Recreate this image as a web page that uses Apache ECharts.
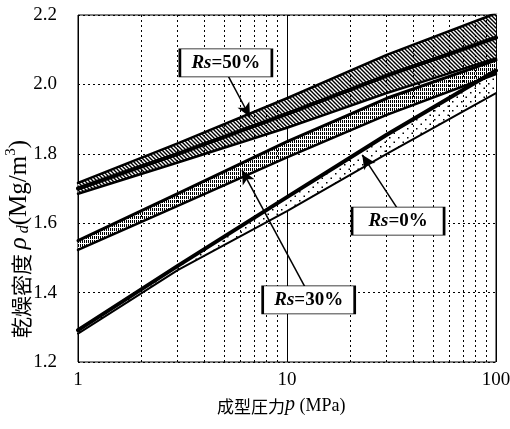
<!DOCTYPE html>
<html>
<head>
<meta charset="utf-8">
<script src="https://cdn.jsdelivr.net/npm/echarts@6/dist/echarts.min.js"></script>
<style>
  html, body { margin: 0; padding: 0; background: #fff; }
  #chart { width: 510px; height: 429px; }
</style>
</head>
<body>
<div id="chart"></div>
<script>
// Forming pressure (MPa) at which each envelope curve is read
const pressure = [1, 3, 10, 30, 100];

// Dry density envelopes (Mg/m3), Rs = 50 %
const rs50Top = [1.716, 1.830, 1.960, 2.085, 2.205];
const rs50Mid = [1.700, 1.800, 1.915, 2.025, 2.135];
const rs50Bottom = [1.685, 1.775, 1.875, 1.975, 2.075];
// Rs = 30 %
const rs30Top = [1.550, 1.685, 1.835, 1.960, 2.070];
const rs30Bottom = [1.523, 1.650, 1.790, 1.912, 2.030];
// Rs = 0 %
const rs0Top = [1.292, 1.477, 1.675, 1.855, 2.040];
const rs0Bottom = [1.282, 1.465, 1.635, 1.800, 1.975];

// Axis ticks
const yTicks = [1.2, 1.4, 1.6, 1.8, 2.0, 2.2];
const xMinorGrid = [2, 3, 4, 5, 6, 7, 8, 9, 20, 30, 40, 50, 60, 70, 80, 90];

// Callouts: box centre, arrow tail and arrow tip in (pressure, density)
const callouts = [
  { at: [5.1, 2.062], text: '=50%', tail: [5.22, 2.025], tip: [6.65, 1.906] },
  { at: [12.7, 1.379], text: '=30%', tail: [12.2, 1.416], tip: [6.09, 1.753] },
  { at: [34.0, 1.606], text: '=0%', tail: [33.6, 1.644], tip: [22.9, 1.797] }
];

const SERIF = '"Liberation Serif", "DejaVu Serif", serif';
const CJK = '"Noto Sans CJK JP", sans-serif';

function makePattern(w, h, draw) {
  const c = document.createElement('canvas');
  c.width = w; c.height = h;
  const ctx = c.getContext('2d');
  ctx.fillStyle = '#fff';
  ctx.fillRect(0, 0, w, h);
  ctx.fillStyle = '#000';
  ctx.strokeStyle = '#000';
  draw(ctx);
  return { image: c, repeat: 'repeat' };
}

// "\\\\" hatch
const diagHatch = makePattern(4, 4, function (ctx) {
  ctx.lineWidth = 1.4;
  ctx.beginPath();
  ctx.moveTo(-1, -1); ctx.lineTo(5, 5);
  ctx.moveTo(-1, 3); ctx.lineTo(1, 5);
  ctx.moveTo(3, -1); ctx.lineTo(5, 1);
  ctx.stroke();
});
// dense vertical stripes
const vertHatch = makePattern(2, 4, function (ctx) {
  ctx.fillRect(0, 0, 1, 3);
});
// sparse dots
const dotFill = makePattern(9, 9, function (ctx) {
  ctx.fillRect(2, 2, 1.5, 1.5);
  ctx.fillRect(6.5, 6.5, 1.5, 1.5);
});

function pairs(ys) {
  return pressure.map(function (p, i) { return [p, ys[i]]; });
}

// Filled band between two envelope curves
function bandSeries(lower, upper, fill) {
  return {
    type: 'custom', silent: true, z: 2,
    data: [[pressure[0], lower[0]]],
    renderItem: function (params, api) {
      const pts = [];
      pressure.forEach(function (p, i) { pts.push(api.coord([p, upper[i]])); });
      for (let i = pressure.length - 1; i >= 0; i--) pts.push(api.coord([pressure[i], lower[i]]));
      return {
        type: 'polygon',
        shape: { points: pts },
        style: { fill: fill, stroke: null }
      };
    }
  };
}

function curve(ys, width) {
  return {
    type: 'line', data: pairs(ys), showSymbol: false, silent: true,
    lineStyle: { color: '#000', width: width, cap: 'round', join: 'round' }, z: 3
  };
}

const richLabel = {
  i: { fontFamily: SERIF, fontSize: 19, fontWeight: 'bold', fontStyle: 'italic', color: '#000' },
  b: { fontFamily: SERIF, fontSize: 19, fontWeight: 'bold', color: '#000' }
};

const series = [
  // minor vertical grid lines
  {
    type: 'line', data: [], silent: true, z: 1,
    markLine: {
      silent: true, symbol: 'none', label: { show: false },
      lineStyle: { color: '#000', width: 1, type: [2, 3] },
      data: xMinorGrid.map(function (v) { return { xAxis: v }; })
    }
  },
  bandSeries(rs50Bottom, rs50Top, diagHatch),
  bandSeries(rs30Bottom, rs30Top, vertHatch),
  bandSeries(rs0Bottom, rs0Top, dotFill),
  curve(rs50Top, 2.5), curve(rs50Mid, 4), curve(rs50Bottom, 2.5),
  curve(rs30Top, 3), curve(rs30Bottom, 2.5),
  curve(rs0Top, 4), curve(rs0Bottom, 2)
];

// callout arrows and boxes
series.push({
  type: 'line', data: [], silent: true, z: 5,
  markLine: {
    silent: true, symbol: ['none', 'arrow'], symbolSize: [10, 14],
    label: { show: false },
    lineStyle: { color: '#000', width: 1.5, type: 'solid' },
    data: callouts.map(function (c) { return [{ coord: c.tail }, { coord: c.tip }]; })
  },
  markPoint: {
    silent: true, symbol: 'rect', symbolSize: [92, 28],
    itemStyle: { color: '#fff', borderColor: '#000', borderWidth: 1.5 },
    label: { show: true, position: 'inside', rich: richLabel },
    data: callouts.map(function (c) {
      return { coord: c.at, label: { formatter: '{i|Rs}{b|' + c.text + '}' } };
    })
  }
});

const chart = echarts.init(document.getElementById('chart'), null, { renderer: 'canvas' });
chart.setOption({
  animation: false,
  backgroundColor: '#fff',
  grid: {
    left: 78, right: 14, top: 15, bottom: 67,
    show: true, borderColor: '#000', borderWidth: 1, backgroundColor: 'transparent',
    outerBoundsMode: 'none'
  },
  xAxis: {
    type: 'log', logBase: 10, min: 1, max: 100,
    axisLine: { show: false }, axisTick: { show: false },
    splitLine: { show: true, lineStyle: { color: '#000', width: 1 } },
    axisLabel: {
      margin: 9, color: '#000', fontFamily: SERIF, fontSize: 19,
      formatter: function (v) { return String(Math.round(v)); }
    }
  },
  yAxis: {
    type: 'value', min: yTicks[0], max: yTicks[yTicks.length - 1], interval: 0.2,
    axisLine: { show: false }, axisTick: { show: false },
    splitLine: { show: true, lineStyle: { color: '#000', width: 1, type: [2, 3] } },
    axisLabel: {
      margin: 21, color: '#000', fontFamily: SERIF, fontSize: 19,
      formatter: function (v) { return v.toFixed(1); }
    }
  },
  graphic: [
    {
      type: 'text', left: 217, top: 395,
      style: {
        text: '{cj|成型圧力}{pi|p}{mp| (MPa)}',
        rich: {
          cj: { fontFamily: CJK, fontSize: 17, lineHeight: 22, color: '#000', verticalAlign: 'bottom' },
          pi: { fontFamily: SERIF, fontSize: 20, lineHeight: 22, fontStyle: 'italic', color: '#000', verticalAlign: 'bottom' },
          mp: { fontFamily: SERIF, fontSize: 18, lineHeight: 22, fontStyle: 'normal', color: '#000', verticalAlign: 'bottom' }
        }
      }
    },
    {
      type: 'text', x: 4, y: 338, rotation: Math.PI / 2,
      style: {
        text: '{c|乾燥密度 }{r|ρ}{d| d}{s|(Mg/m}{u|3}{s|)}',
        align: 'left', verticalAlign: 'top',
        rich: {
          c: { fontFamily: CJK, fontSize: 21, color: '#000', lineHeight: 28, verticalAlign: 'bottom' },
          r: { fontFamily: SERIF, fontSize: 25, fontStyle: 'italic', color: '#000', lineHeight: 28, verticalAlign: 'bottom' },
          d: { fontFamily: SERIF, fontSize: 16, fontStyle: 'italic', color: '#000', lineHeight: 28, verticalAlign: 'bottom' },
          s: { fontFamily: SERIF, fontSize: 25, color: '#000', lineHeight: 28, verticalAlign: 'bottom' },
          u: { fontFamily: SERIF, fontSize: 15, color: '#000', lineHeight: 28, verticalAlign: 'top' }
        }
      }
    }
  ],
  series: series
});
</script>
</body>
</html>
